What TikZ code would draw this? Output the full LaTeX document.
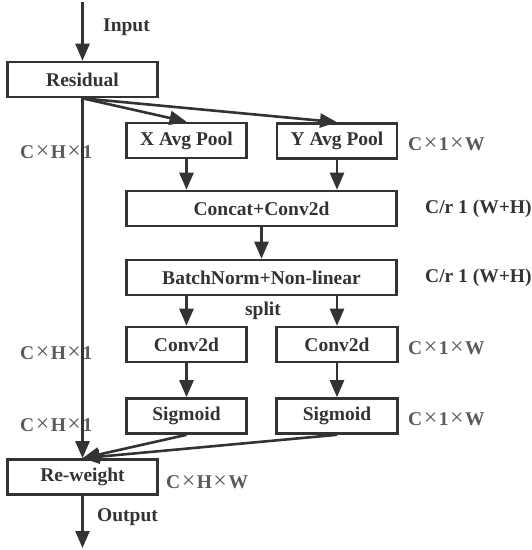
\documentclass[tikz,border=0pt]{standalone}
\usepackage{fontspec}
\setmainfont{Liberation Serif}
\usetikzlibrary{arrows.meta}
\definecolor{ink}{HTML}{333333}
\definecolor{dimc}{HTML}{5A5A5A}
\newcommand{\tm}{\kern1.5pt{\fontsize{24}{24}\selectfont\mdseries\raisebox{0.5pt}{×}}\kern1.5pt}
\begin{document}
\begin{tikzpicture}[x=1pt,y=-1pt,
  font=\fontsize{19.5}{22}\selectfont\bfseries,
  blk/.style={draw=ink,line width=2.6pt,rectangle,inner sep=0pt,text=ink,minimum height=35pt},
  arr/.style={draw=ink,line width=2.6pt,-{Triangle[length=17pt,width=14pt]}},
  dim/.style={anchor=west,inner sep=0pt,text=dimc},
  lab/.style={anchor=west,inner sep=0pt,text=ink}]
\useasboundingbox (0,0) rectangle (532,550);
\node[blk,minimum width=150pt] (res) at (82.5,79.5) {Residual};
\node[blk,minimum width=120pt] (xp) at (186.5,140.5) {X Avg Pool};
\node[blk,minimum width=120pt] (yp) at (337,141) {Y Avg Pool};
\node[blk,minimum width=270pt] (cc) at (261.5,208.5) {Concat+Conv2d};
\node[blk,minimum width=270pt] (bn) at (261.5,277.5) {BatchNorm+Non-linear};
\node[blk,minimum width=120pt] (cl) at (186.5,344.5) {Conv2d};
\node[blk,minimum width=121pt] (cr) at (337,344.5) {Conv2d};
\node[blk,minimum width=120pt] (sl) at (186.5,416) {Sigmoid};
\node[blk,minimum width=121pt] (sr) at (337,416) {Sigmoid};
\node[blk,minimum width=150pt] (rw) at (82.5,477) {Re-weight};
\coordinate (in) at (82.5,2);
\coordinate (out) at (82.5,548);
% connectors
\draw[arr] (in) -- (res.north);
\draw[arr] (res.south) -- (xp.north);
\draw[arr] (res.south) -- (yp.north);
\draw[arr] (res.south) -- (rw.north);
\draw[arr] (xp.south) -- (xp.south |- cc.north);
\draw[arr] (yp.south) -- (yp.south |- cc.north);
\draw[arr] (cc.south) -- (bn.north);
\draw[arr] (cl.north |- bn.south) -- (cl.north);
\draw[arr] (cr.north |- bn.south) -- (cr.north);
\draw[arr] (cl.south) -- (sl.north);
\draw[arr] (cr.south) -- (sr.north);
\draw[arr] (sl.south) -- (rw.north);
\draw[arr] (sr.south) -- (rw.north);
\draw[arr] (rw.south) -- (out);
% labels
\node[lab] (tin) at (103,27) {Input};
\node[lab] (tout) at (97,517) {Output};
\node[text=ink,inner sep=0pt] (tsplit) at (263,311) {split};
\node[dim] (d1) at (20,152) {C\tm H\tm 1};
\node[dim] (d2) at (20,353) {C\tm H\tm 1};
\node[dim] (d3) at (20,425) {C\tm H\tm 1};
\node[dim] (d4) at (408,144) {C\tm 1\tm W};
\node[dim] (d5) at (408,348) {C\tm 1\tm W};
\node[dim] (d6) at (408,419) {C\tm 1\tm W};
\node[dim] (d7) at (166,482) {C\tm H\tm W};
\node[lab] (r1) at (425,209) {C/r 1 (W+H)};
\node[lab] (r2) at (425,278) {C/r 1 (W+H)};
\end{tikzpicture}
\end{document}
